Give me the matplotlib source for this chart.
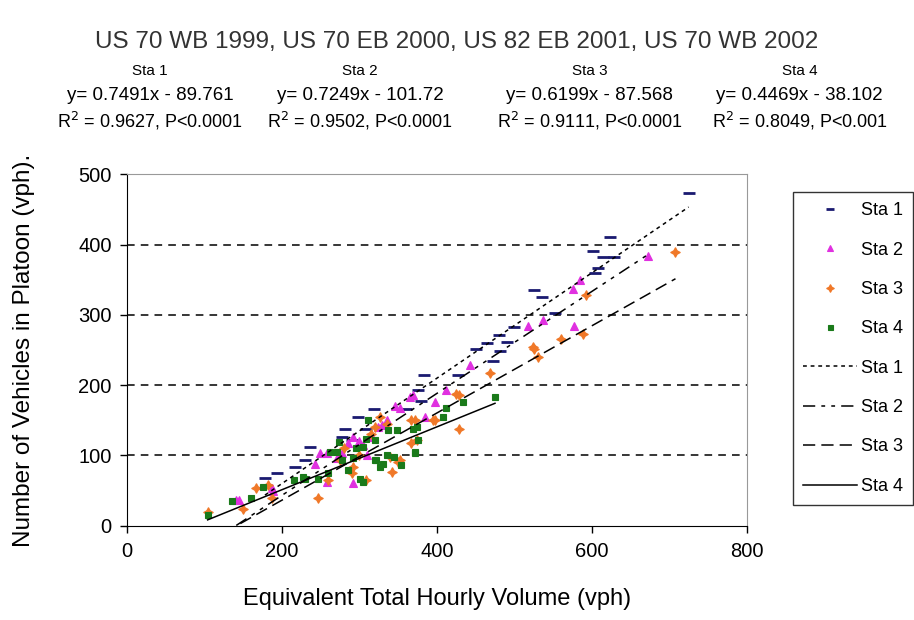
import matplotlib
matplotlib.use("Agg")
import matplotlib.pyplot as plt
import numpy as np
from matplotlib.lines import Line2D

plt.rcParams['font.family'] = ['Liberation Sans', 'DejaVu Sans']

title = "US 70 WB 1999, US 70 EB 2000, US 82 EB 2001, US 70 WB 2002"
stations = ["Sta 1", "Sta 2", "Sta 3", "Sta 4"]
slopes = [0.7491, 0.7249, 0.6199, 0.4469]
intercepts = [-89.761, -101.72, -87.568, -38.102]
eq_texts = ["y= 0.7491x - 89.761", "y= 0.7249x - 101.72",
            "y= 0.6199x - 87.568", "y= 0.4469x - 38.102"]
r2_texts = ["R$^2$ = 0.9627, P<0.0001", "R$^2$ = 0.9502, P<0.0001",
            "R$^2$ = 0.9111, P<0.0001", "R$^2$ = 0.8049, P<0.001"]

sta1_x = [178, 193, 217, 230, 236, 264, 277, 290, 281, 298, 309, 319, 360, 375, 380,
          384, 427, 451, 465, 481, 473, 490, 480, 499, 526, 536, 552, 604, 608, 601,
          615, 628, 624, 725]
sta1_y = [68, 75, 83, 94, 112, 105, 126, 122, 137, 155, 137, 166, 166, 193, 177,
          215, 215, 251, 260, 249, 235, 262, 271, 283, 335, 325, 302, 359, 366, 391,
          382, 382, 411, 474]

sta2_x = [141, 144, 187, 189, 243, 249, 258, 258, 271, 277, 285, 292, 292, 305, 316,
          324, 329, 346, 352, 365, 369, 385, 397, 412, 443, 517, 537, 577, 576, 585,
          673, 300, 310, 335]
sta2_y = [36, 37, 53, 50, 88, 103, 103, 62, 96, 103, 117, 126, 61, 115, 126,
          141, 143, 171, 167, 183, 186, 154, 176, 193, 228, 284, 292, 284, 337, 349,
          383, 120, 100, 150]

sta3_x = [105, 150, 167, 182, 187, 247, 259, 275, 292, 309, 326, 335, 339, 342, 350,
          352, 367, 367, 372, 374, 395, 397, 425, 428, 429, 468, 524, 526, 531, 560,
          589, 592, 708, 280, 300, 315, 320, 290]
sta3_y = [20, 24, 54, 58, 39, 40, 65, 93, 84, 65, 155, 145, 98, 77, 91,
          93, 150, 117, 150, 122, 150, 150, 188, 186, 137, 217, 254, 252, 240, 265,
          273, 328, 390, 110, 100, 130, 140, 75]

sta4_x = [104, 135, 160, 176, 215, 230, 227, 247, 262, 271, 273, 277, 292, 296, 301,
          305, 305, 309, 311, 320, 320, 322, 326, 331, 335, 337, 344, 348, 354, 369,
          372, 372, 374, 376, 408, 412, 434, 475, 285, 260]
sta4_y = [15, 35, 39, 55, 65, 67, 69, 67, 105, 105, 119, 93, 96, 110, 66,
          62, 112, 124, 150, 122, 93, 93, 84, 88, 100, 136, 98, 136, 86, 138,
          105, 103, 141, 122, 155, 167, 176, 183, 80, 75]

xs = [sta1_x, sta2_x, sta3_x, sta4_x]
ys = [sta1_y, sta2_y, sta3_y, sta4_y]

colors = ["#1a1a70", "#e030e0", "#f07828", "#1a7a1a"]
markers = ["_", "^", (4, 1, 0), "s"]
msizes = [8, 6, 7, 4.5]
line_styles = [(0, (2.5, 2.5)), (0, (8, 4, 2.5, 4, 2.5, 4)), (0, (8, 4)), "-"]

fig = plt.figure(figsize=(9.14, 6.2), dpi=100)
ax = fig.add_axes([0.139, 0.152, 0.678, 0.567])

for i in range(4):
    ax.plot(xs[i], ys[i], linestyle="none", marker=markers[i], color=colors[i],
            markersize=msizes[i], markeredgewidth=2 if i == 0 else 0.8,
            zorder=3)

for i in range(4):
    xx = np.array([min(xs[i]), max(xs[i])])
    ax.plot(xx, slopes[i] * xx + intercepts[i], color="black", lw=1.1,
            linestyle=line_styles[i], zorder=4)

ax.set_xlim(0, 800)
ax.set_ylim(0, 500)
ax.set_xticks([0, 200, 400, 600, 800])
ax.set_yticks([0, 100, 200, 300, 400, 500])
for yv in [100, 200, 300, 400]:
    ax.axhline(yv, color="black", lw=1.1, linestyle=(0, (5, 4)), zorder=1)

ax.spines["top"].set_color("#999999")
ax.spines["right"].set_color("#999999")
ax.spines["left"].set_color("black")
ax.spines["bottom"].set_color("black")
ax.tick_params(axis="both", direction="out", length=5, width=1, labelsize=14.5,
               colors="black")
ax.tick_params(axis="x", pad=7)
ax.tick_params(axis="y", pad=6)
ax.set_xlabel("Equivalent Total Hourly Volume (vph)", fontsize=17, labelpad=19)
ax.set_ylabel("Number of Vehicles in Platoon (vph).", fontsize=17.5, labelpad=31)

fig.text(0.5, 0.932, title, ha="center", va="center", fontsize=17.5, color="#333333")

centers = [0.164, 0.394, 0.645, 0.875]
for i in range(4):
    fig.text(centers[i], 0.886, stations[i], ha="center", va="center", fontsize=11)
    fig.text(centers[i], 0.846, eq_texts[i], ha="center", va="center", fontsize=13.5)
    fig.text(centers[i], 0.805, r2_texts[i], ha="center", va="center", fontsize=13)

handles = []
labels = []
for i in range(4):
    handles.append(Line2D([], [], linestyle="none", marker=markers[i], color=colors[i],
                          markersize=msizes[i] * 0.8,
                          markeredgewidth=2 if i == 0 else 0.8))
    labels.append(stations[i])
for i in range(4):
    handles.append(Line2D([], [], color="black", lw=1.1, linestyle=line_styles[i]))
    labels.append(stations[i])

leg = fig.legend(handles, labels, loc="upper left", bbox_to_anchor=(0.8676, 0.690),
                 borderaxespad=0, fontsize=13, frameon=True, fancybox=False,
                 edgecolor="black", labelspacing=1.24, handlelength=3.0,
                 handletextpad=0.2, borderpad=0.55)
leg.get_frame().set_linewidth(1.0)

fig.savefig("out.png", dpi=100)
